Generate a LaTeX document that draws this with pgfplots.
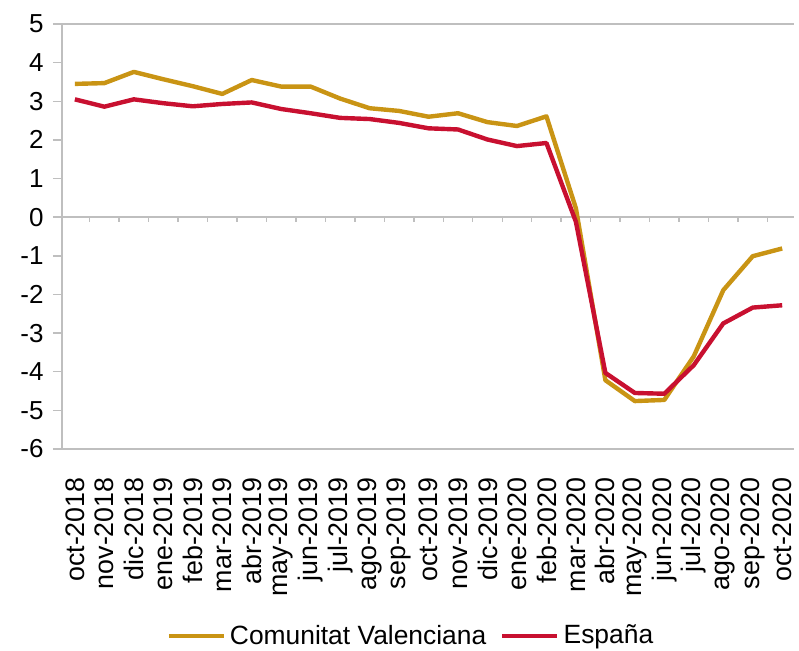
\documentclass[border=0pt]{standalone}
\usepackage{pgfplots}
\pgfplotsset{compat=1.18}
\usepackage{fontspec}
\setmainfont{Liberation Sans}
\definecolor{cvgold}{RGB}{201,148,20}
\definecolor{esred}{RGB}{200,16,48}
\definecolor{axgray}{RGB}{191,191,191}
\begin{document}
\begin{tikzpicture}
\path[use as bounding box] (-31pt,-101pt) rectangle (368.5pt,224.5pt);
\begin{axis}[
  at={(0,0)}, anchor=south west,
  scale only axis, width=366pt, height=212.5pt,
  xmin=-0.438, xmax=24.40, ymin=-6, ymax=5,
  axis x line*=bottom, axis y line*=left,
  x axis line style={draw=axgray, line width=0.7pt, -},
  y axis line style={draw=axgray, line width=1.4pt, -},
  ytick={-6,-5,...,5},
  ytick style={draw=axgray, line width=0.7pt},
  tick align=outside, major tick length=4.5pt,
  xtick={0,...,24}, xtick style={draw=none},
  xticklabels={oct-2018,nov-2018,dic-2018,ene-2019,feb-2019,mar-2019,abr-2019,may-2019,jun-2019,jul-2019,ago-2019,sep-2019,oct-2019,nov-2019,dic-2019,ene-2020,feb-2020,mar-2020,abr-2020,may-2020,jun-2020,jul-2020,ago-2020,sep-2020,oct-2020},
  xticklabel style={rotate=90, anchor=east, inner sep=0pt, font=\fontsize{13.4}{15}\selectfont},
  xticklabel shift=9.5pt,
  yticklabel style={anchor=east, inner sep=0pt, font=\fontsize{13}{15}\selectfont},
  yticklabel shift=4.5pt,
  /pgf/number format/assume math mode=true,
  legend columns=2,
  legend style={at={(axis description cs:0.478,-0.44)}, anchor=center, draw=none, fill=none,
    font=\fontsize{13.2}{15}\selectfont, inner sep=0pt,
    /tikz/every even column/.append style={column sep=5pt}},
  legend cell align=left,
  legend image code/.code={\draw[#1] (0pt,0pt) -- (27.5pt,0pt);},
  clip=false,
]
\draw[axgray, line width=0.7pt] (rel axis cs:0,1) -- (rel axis cs:1,1);
\draw[axgray, line width=0.7pt] (axis cs:-0.438,0) -- (axis cs:24.40,0);
\pgfplotsinvokeforeach{0.5,1.5,...,23.5}{
  \draw[axgray, line width=0.7pt] (axis cs:#1,0) -- ([yshift=-2.5pt]axis cs:#1,0);
}
\addplot[cvgold, line width=2.2pt, line join=round] coordinates {
(0,3.45) (1,3.47) (2,3.76) (3,3.57) (4,3.39) (5,3.19) (6,3.55) (7,3.38) (8,3.38) (9,3.07)
(10,2.82) (11,2.75) (12,2.60) (13,2.69) (14,2.46) (15,2.36) (16,2.61) (17,0.23) (18,-4.22)
(19,-4.76) (20,-4.73) (21,-3.60) (22,-1.89) (23,-1.01) (24,-0.81)};
\addlegendentry{Comunitat Valenciana}
\addplot[esred, line width=2.2pt, line join=round] coordinates {
(0,3.05) (1,2.86) (2,3.05) (3,2.95) (4,2.87) (5,2.93) (6,2.97) (7,2.80) (8,2.69) (9,2.57)
(10,2.54) (11,2.44) (12,2.30) (13,2.27) (14,2.01) (15,1.84) (16,1.92) (17,-0.12) (18,-4.03)
(19,-4.55) (20,-4.57) (21,-3.83) (22,-2.75) (23,-2.34) (24,-2.28)};
\addlegendentry{España}
\end{axis}
\end{tikzpicture}
\end{document}
